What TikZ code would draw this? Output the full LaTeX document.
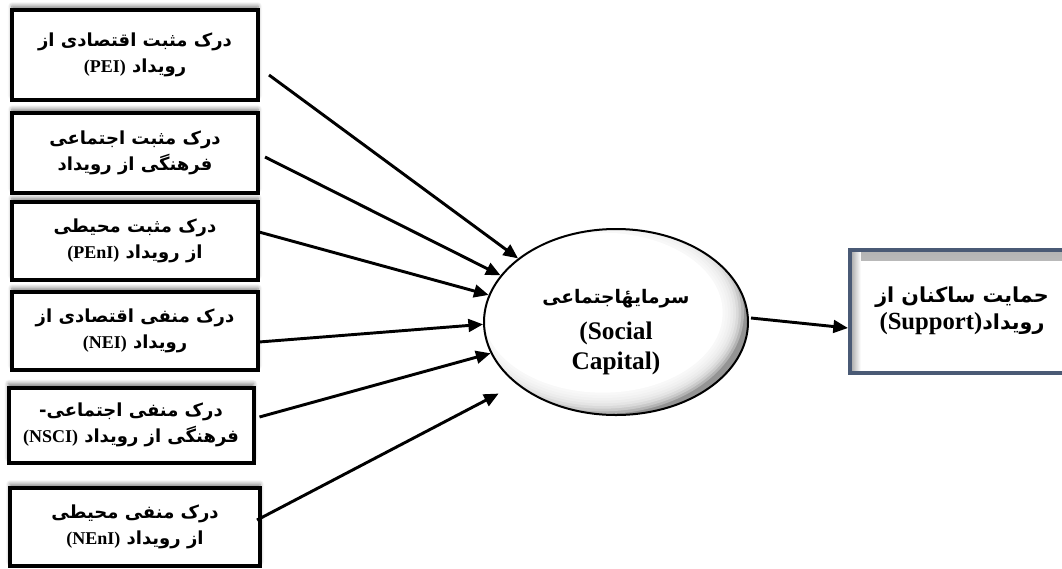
\documentclass[tikz,border=0pt]{standalone}
\usepackage{fontspec}
\setmainfont{Liberation Serif}
\newfontfamily\farsifont[Script=Arabic]{DejaVu Sans}
\TeXXeTstate=1
\usetikzlibrary{arrows.meta,shapes.geometric,shadows.blur}

\newcommand{\fatext}[1]{{\farsifont\beginR #1\endR}}
\newcommand{\entext}[1]{\beginL{\rmfamily #1}\endL}
\definecolor{slateframe}{RGB}{74,90,117}

\begin{document}
\begin{tikzpicture}[x=0.75pt,y=-0.75pt,
	>={Triangle[length=11pt,width=9.5pt]},
	factor/.style={rectangle,draw,line width=3pt,fill=white,minimum width=184.5pt,align=center,
		font=\bfseries\fontsize{13.5}{20}\selectfont,
		blur shadow={shadow xshift=0pt,shadow yshift=3pt,shadow blur radius=3pt,shadow blur steps=6,shadow opacity=50}},
	link/.style={->,line width=2.2pt}]
\useasboundingbox (0,0) rectangle (1062,568);

% left column
\node[factor,minimum height=67.5pt] (pei) at (135,55) {\fatext{درک مثبت اقتصادی از}\\ \fatext{رویداد \entext{(PEI)}}};
\node[factor,minimum height=60pt] (psci) at (135,153) {\fatext{درک مثبت اجتماعی}\\ \fatext{فرهنگی از رویداد}};
\node[factor,minimum height=58.5pt] (peni) at (135,241) {\fatext{درک مثبت محیطی}\\ \fatext{از رویداد \entext{(PEnI)}}};
\node[factor,minimum height=58.5pt] (nei) at (135,331) {\fatext{درک منفی اقتصادی از}\\ \fatext{رویداد \entext{(NEI)}}};
\node[factor,minimum height=56.25pt,minimum width=183.75pt] (nsci) at (131,425) {\fatext{درک منفی اجتماعی-}\\ \fatext{فرهنگی از رویداد \entext{(NSCI)}}};
\node[factor,minimum height=58.5pt,minimum width=187.5pt] (neni) at (135,527) {\fatext{درک منفی محیطی}\\ \fatext{از رویداد \entext{(NEnI)}}};

% mediator and outcome
\node[ellipse,draw,line width=1.5pt,fill=white,minimum width=198pt,minimum height=139.5pt,inner sep=0pt,align=center,
	font=\bfseries\fontsize{19}{22.5}\selectfont,
	path picture={
		\fill[black!42] (path picture bounding box.south west) rectangle (path picture bounding box.north east);
		\foreach \k in {0,...,7}
			\fill[white,opacity=0.3] ([shift={(-10pt,7pt)}]path picture bounding box.center) ellipse ({(106-\k*2)*1pt} and {(76-\k*2)*1pt});
		\fill[white] ([shift={(-10pt,7pt)}]path picture bounding box.center) ellipse (90pt and 60pt);
	}] (sc) at (616,322)
	{\fontsize{14}{20}\selectfont\rule{0pt}{26pt}\fatext{سرمایهٔاجتماعی}\\[5pt] (Social\\ Capital)};
\node[rectangle,draw=slateframe,line width=3pt,fill=white,minimum width=168pt,minimum height=92.25pt,align=center,
	font=\bfseries\fontsize{15.5}{20}\selectfont,
	path picture={
		\shade[top color=black!30,bottom color=white] ([shift={(1.5pt,-1.5pt)}]path picture bounding box.north west) rectangle ([shift={(-1.5pt,-8pt)}]path picture bounding box.north east);
		\shade[left color=black!30,right color=white] ([shift={(1.5pt,-1.5pt)}]path picture bounding box.north west) rectangle ([shift={(8pt,1.5pt)}]path picture bounding box.south west);
	}] (sup) at (962,311) {\fatext{حمایت ساکنان از}\\ \fatext{رویداد\entext{\fontsize{18.5}{20}\selectfont(Support)}}};

\draw[link] ([shift={(9,20)}]pei.east) -- (sc.147);
\draw[link] ([shift={(5,4)}]psci.east) -- (sc.158);
\draw[link] ([shift={(-1,-9)}]peni.east) -- (sc.168);
\draw[link] ([shift={(-1,11)}]nei.east) -- (sc.181);
\draw[link] ([shift={(4,-8)}]nsci.east) -- (sc.194);
\draw[link,shorten >=15pt] ([shift={(-5,-7)}]neni.east) -- (sc.212);
\draw[link] ([shift={(2,-4)}]sc.east) -- ([shift={(0,17)}]sup.west);
\end{tikzpicture}
\end{document}
